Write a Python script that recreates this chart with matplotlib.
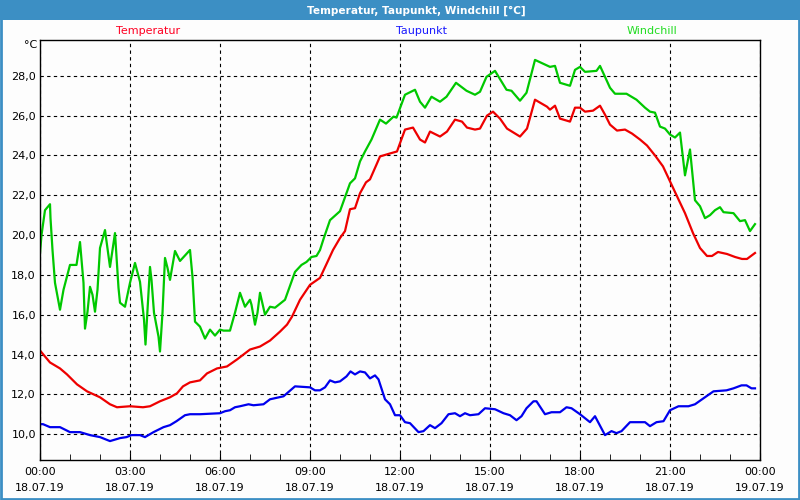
import numpy as np
import pandas as pd
import matplotlib
matplotlib.use('Agg')
import matplotlib.pyplot as plt
import matplotlib.dates as mdates
from matplotlib.patches import Rectangle
from matplotlib.ticker import FuncFormatter, MultipleLocator

day = pd.Timestamp('2019-07-18')

# Temperatur (minutes after midnight, degC)
temp_min = [0, 20, 40, 54, 74, 94, 120, 140, 154, 180, 206, 220, 240, 260, 274, 286, 300, 320, 334, 354,
            374, 394, 420, 440, 460, 480, 494, 504, 520, 540, 560, 574, 586, 600, 610, 620, 630, 640, 652, 660,
            674, 680, 700, 714, 730, 746, 760, 770, 780, 800, 814, 830, 844, 854, 870, 880, 894, 906, 920, 934,
            960, 974, 990, 1014, 1020, 1030, 1040, 1060, 1070, 1080, 1090, 1106, 1120, 1130, 1140, 1154, 1170,
            1184, 1200, 1214, 1230, 1246, 1260, 1274, 1290, 1306, 1320, 1334, 1344, 1356, 1374, 1390, 1404,
            1414, 1430]
temp_val = [14.2, 13.6, 13.3, 13.0, 12.5, 12.15, 11.85, 11.5, 11.35, 11.4, 11.35, 11.4, 11.65, 11.85, 12.05,
            12.4, 12.6, 12.7, 13.05, 13.3, 13.4, 13.75, 14.25, 14.4, 14.7, 15.15, 15.5, 15.9, 16.75, 17.5, 17.85,
            18.6, 19.25, 19.85, 20.2, 21.3, 21.35, 22.1, 22.65, 22.8, 23.6, 23.95, 24.1, 24.2, 25.3, 25.4, 24.8,
            24.65, 25.2, 24.95, 25.2, 25.8, 25.7, 25.4, 25.3, 25.35, 26.0, 26.2, 25.85, 25.35, 24.95, 25.35, 26.8,
            26.45, 26.3, 26.5, 25.85, 25.7, 26.4, 26.4, 26.2, 26.25, 26.5, 26.05, 25.55, 25.25, 25.3, 25.1, 24.8,
            24.5, 24.0, 23.45, 22.7, 21.95, 21.1, 20.1, 19.35, 18.95, 18.95, 19.15, 19.05, 18.9, 18.8, 18.8, 19.1]

# Taupunkt
dew_min = [0, 6, 20, 40, 60, 80, 100, 120, 140, 160, 173, 183, 200, 210, 227, 247, 260, 273, 290, 300, 320,
           360, 370, 380, 390, 400, 417, 427, 447, 460, 487, 510, 540, 550, 560, 570, 580, 590, 600, 613, 621,
           630, 640, 650, 660, 670, 677, 690, 700, 710, 720, 730, 740, 757, 767, 780, 790, 803, 817, 830, 840,
           850, 860, 877, 890, 910, 927, 940, 953, 963, 973, 987, 993, 1010, 1023, 1040, 1053, 1063, 1080,
           1100, 1110, 1130, 1143, 1153, 1163, 1180, 1210, 1220, 1233, 1247, 1260, 1277, 1297, 1310, 1327,
           1347, 1373, 1387, 1403, 1413, 1423, 1430]
dew_val = [10.5, 10.5, 10.35, 10.35, 10.1, 10.1, 9.95, 9.85, 9.65, 9.8, 9.85, 9.95, 9.95, 9.85, 10.1, 10.35,
           10.45, 10.65, 10.95, 11.0, 11.0, 11.05, 11.15, 11.2, 11.35, 11.4, 11.5, 11.45, 11.5, 11.75, 11.9,
           12.4, 12.35, 12.2, 12.2, 12.35, 12.7, 12.6, 12.65, 12.9, 13.15, 13.0, 13.15, 13.1, 12.8, 12.95,
           12.75, 11.75, 11.5, 10.95, 10.95, 10.6, 10.55, 10.1, 10.15, 10.45, 10.3, 10.55, 11.0, 11.05, 10.9,
           11.05, 10.95, 11.0, 11.3, 11.25, 11.05, 10.95, 10.7, 10.9, 11.3, 11.65, 11.65, 11.0, 11.1, 11.1,
           11.35, 11.3, 11.0, 10.6, 10.9, 9.95, 10.15, 10.05, 10.15, 10.6, 10.6, 10.4, 10.6, 10.65, 11.2, 11.4,
           11.4, 11.5, 11.8, 12.15, 12.2, 12.3, 12.45, 12.45, 12.3, 12.3]

# Windchill
wc_min = [0, 3, 10, 20, 21, 25, 30, 40, 47, 60, 73, 80, 87, 90, 95, 100, 105, 110, 115, 120, 130, 140, 150,
          157, 160, 170, 180, 190, 200, 208, 211, 220, 223, 228, 237, 240, 245, 250, 255, 260, 270, 280, 300,
          305, 310, 320, 330, 340, 350, 360, 367, 380, 390, 400, 410, 420, 423, 430, 435, 440, 450, 460, 470,
          490, 510, 523, 533, 543, 553, 560, 567, 580, 600, 620, 630, 640, 650, 663, 680, 692, 707, 713, 730,
          750, 760, 770, 783, 800, 813, 832, 853, 870, 880, 893, 910, 933, 943, 960, 973, 990, 1007, 1020,
          1030, 1040, 1060, 1070, 1080, 1090, 1113, 1120, 1130, 1140, 1150, 1173, 1183, 1193, 1210, 1220,
          1230, 1240, 1250, 1260, 1270, 1280, 1290, 1300, 1310, 1320, 1330, 1340, 1350, 1360, 1367, 1387,
          1400, 1410, 1420, 1430]
wc_val = [19.1, 20.0, 21.25, 21.55, 20.85, 19.25, 17.6, 16.25, 17.25, 18.5, 18.5, 19.65, 17.6, 15.3, 16.15,
          17.4, 17.0, 16.15, 17.25, 19.35, 20.25, 18.4, 20.1, 17.35, 16.6, 16.4, 17.6, 18.6, 17.65, 15.75, 14.5,
          18.4, 17.75, 16.1, 14.9, 14.15, 16.1, 18.85, 18.35, 17.75, 19.2, 18.7, 19.25, 17.9, 15.65, 15.4, 14.8,
          15.25, 14.95, 15.25, 15.2, 15.2, 16.1, 17.1, 16.4, 16.75, 16.5, 15.5, 16.1, 17.1, 16.0, 16.4, 16.35,
          16.75, 18.15, 18.5, 18.65, 18.9, 18.95, 19.25, 19.8, 20.75, 21.2, 22.6, 22.85, 23.7, 24.2, 24.8, 25.8,
          25.6, 25.95, 25.9, 27.05, 27.3, 26.7, 26.4, 26.95, 26.7, 26.95, 27.65, 27.25, 27.05, 27.2, 27.95,
          28.25, 27.3, 27.25, 26.75, 27.15, 28.8, 28.6, 28.45, 28.5, 27.65, 27.5, 28.3, 28.45, 28.2, 28.25,
          28.5, 27.95, 27.4, 27.1, 27.1, 26.95, 26.8, 26.4, 26.2, 26.15, 25.45, 25.35, 25.05, 24.9, 25.15,
          23.0, 24.3, 21.75, 21.45, 20.85, 21.0, 21.25, 21.4, 21.15, 21.1, 20.7, 20.75, 20.2, 20.55]

labels = ['Temperatur', 'Taupunkt', 'Windchill']
colors = ['#ee0000', '#0000ee', '#00c800']
label_colors = ['#ff0022', '#1a1aff', '#22dd22']
label_x = [148, 422, 652]

def to_time(mins):
    return day + pd.to_timedelta(np.array(mins), unit='m')

blue = '#3c8fc4'
fig = plt.figure(figsize=(8, 5), dpi=100)
fig.patch.set_facecolor('#fdfdfd')
fig.patches.append(Rectangle((0, 1 - 20 / 500), 1, 20 / 500, transform=fig.transFigure,
                             facecolor=blue, edgecolor='none', zorder=0))
fig.patches.append(Rectangle((0.001, 0.002), 0.998, 0.997, transform=fig.transFigure,
                             fill=False, edgecolor=blue, lw=2, zorder=5))
fig.text(0.52, 1 - 10.5 / 500, 'Temperatur, Taupunkt, Windchill [°C]', ha='center', va='center',
         color='white', fontweight='bold', fontsize=7.6)

ax = fig.add_axes([0.05, 0.08, 0.90, 0.84])
ax.set_facecolor('#fdfdfd')

series = [(temp_min, temp_val), (dew_min, dew_val), (wc_min, wc_val)]
for (m, v), c in zip(series, colors):
    ax.plot(to_time(m), v, color=c, lw=1.6)

for lab, c, lx in zip(labels, label_colors, label_x):
    fig.text(lx / 800, 1 - 31 / 500, lab, color=c, ha='center', va='center', fontsize=8)
fig.text(37 / 800, 1 - 45 / 500, '°C', ha='right', va='center', fontsize=8)

ax.set_xlim(day, day + pd.Timedelta(hours=24))
ax.set_ylim(8.7, 29.8)
ax.xaxis.set_major_locator(mdates.HourLocator(byhour=range(0, 24, 3)))
ax.xaxis.set_minor_locator(mdates.HourLocator())
ax.xaxis.set_major_formatter(mdates.DateFormatter('%H:%M\n%d.%m.%y'))
ax.yaxis.set_major_locator(MultipleLocator(2))
ax.yaxis.set_major_formatter(FuncFormatter(lambda v, p: f'{v:.1f}'.replace('.', ',')))

ax.grid(True, which='major', color='black', linestyle=(0, (3, 3)), lw=0.8)
ax.tick_params(axis='x', which='major', direction='in', length=5, pad=5, labelsize=8)
ax.tick_params(axis='x', which='minor', direction='in', length=4)
ax.tick_params(axis='y', length=0, pad=3, labelsize=8)
for t in ax.get_xticklabels():
    t.set_linespacing(1.7)
for s in ax.spines.values():
    s.set_color('black')
    s.set_linewidth(1)

fig.savefig('out.png', dpi=100, facecolor=fig.get_facecolor())
